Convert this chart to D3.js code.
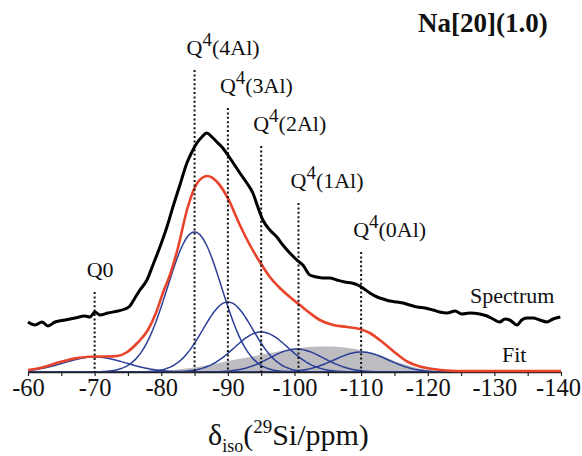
<!DOCTYPE html>
<html>
<head>
<meta charset="utf-8">
<script src="https://cdnjs.cloudflare.com/ajax/libs/d3/7.8.5/d3.min.js"></script>
<style>
  body { margin: 0; background: #fff; }
  svg text { font-family: "Liberation Serif", "Times New Roman", Tinos, Times, serif; fill: #111; }
</style>
</head>
<body>
<div id="chart"></div>
<script>
// chemical shift ticks (ppm)
const tickValues = [-60, -70, -80, -90, -100, -110, -120, -130, -140];

// fitted components: centre (ppm), height, gaussian sigma (ppm)
const peakNames   = ["Q0", "4Al", "3Al", "2Al", "1Al", "0Al"];
const peakCenters = [-70, -85, -90, -95, -100.3, -110];
const peakHeights = [15, 140, 70, 40, 23, 20];
const peakSigmas  = [4.65, 4.05, 3.75, 4.05, 4.05, 4.05];

// dotted markers: position (ppm) and top (intensity)
const markerPos = [-70, -85, -90, -95, -100.6, -110];
const markerTop = [80, 302, 264, 226, 169, 120];

// broad grey contribution
const greyPpm = [-78.3, -81.3, -84.3, -87.3, -90.0, -93.3, -96.3, -99.3, -102.3, -104.6, -106.8, -109.8, -112.8, -115.4, -117.3, -119.9, -121.8];
const greyVal = [0, 1.5, 4, 7, 11, 15, 19, 22.5, 25, 25.5, 25, 22, 17, 10, 6, 2, 0];

// fit (red)
const fitPpm = [-60, -61.8, -64.8, -67.4, -70.1, -71.9, -73.4, -74.9, -76.4, -78.0, -79.2, -80.3, -81.3, -82.5, -83.9, -85.4, -86.9, -88.4, -89.9, -91.8, -93.3, -94.8, -96.3, -97.8, -99.3, -100.8, -102.3, -103.8, -105.8, -107.9, -109.8, -111.3, -112.8, -114.8, -116.9, -118.8, -120.8, -122.9, -125.6, -140];
const fitVal = [2, 4, 10, 14, 15.5, 15.5, 16, 20, 29, 42, 59, 80, 97, 124, 163, 189, 196, 190, 175, 147, 127, 110, 95, 84, 75, 67, 59, 52, 47, 45, 43, 39, 32, 21, 10.5, 5.5, 3, 1.5, 1, 1];

// measured spectrum (black)
const specPpm = [-60.0, -61.05, -62.1, -63.0, -64.05, -65.55, -67.05, -68.55, -69.3, -70.05, -70.8, -72.0, -73.5, -74.55, -75.3, -76.05, -76.8, -77.85, -78.75, -79.8, -80.85, -81.75, -82.8, -83.85, -84.6, -85.35, -86.1, -86.85, -87.6, -88.35, -89.1, -90.0, -90.9, -91.8, -92.85, -93.75, -94.5, -95.25, -96.3, -97.35, -98.25, -99.3, -100.35, -101.25, -102.3, -103.35, -104.25, -105.3, -106.35, -107.55, -108.6, -109.5, -110.25, -111.3, -112.4, -113.3, -114.3, -115.4, -116.3, -117.3, -118.4, -119.6, -120.8, -121.8, -122.9, -124.1, -125.1, -126.3, -127.8, -128.9, -129.8, -130.8, -131.6, -132.3, -133.4, -134.1, -134.9, -135.8, -136.8, -137.9, -138.8, -139.9];
const specVal = [50, 47, 50, 46, 50, 52, 54, 56, 55, 60, 57, 59, 61, 63, 66, 74, 82, 92, 107, 125, 145, 165, 187, 209, 220, 229, 235, 239, 235, 230, 225, 217, 208, 199, 189, 179, 165, 152, 142, 135, 127, 119, 112, 107, 97, 95, 94, 94, 92, 90, 89, 87, 84, 79, 75, 73, 71, 70, 69, 67, 65, 64, 62, 60, 59, 61, 58, 59, 58, 56, 53, 50, 53, 52, 47, 52, 54, 54, 52, 50, 53, 55];

const SERIF = "Liberation Serif, Times New Roman, serif";
const W = 582, H = 456;
const svg = d3.select("#chart").append("svg")
	.attr("width", W)
	.attr("height", H)
	.attr("font-family", SERIF);

const xScale = d3.scaleLinear().domain([-60, -140]).range([28, 561]);
const yScale = d3.scaleLinear().domain([0, 250]).range([372, 122]);

const line = d3.line()
	.x(d => xScale(d[0]))
	.y(d => yScale(d[1]))
	.curve(d3.curveMonotoneX);

// grey area
const greyData = greyPpm.map((p, i) => [p, greyVal[i]]);
svg.append("path")
	.datum(greyData)
	.attr("fill", "#bdbdc1")
	.attr("d", d3.area()
		.x(d => xScale(d[0]))
		.y0(yScale(0))
		.y1(d => yScale(d[1]))
		.curve(d3.curveMonotoneX));

// gaussian components
const grid = d3.range(-60, -140.01, -0.25);
peakNames.forEach((name, i) => {
	const pts = grid.map(p => [p, peakHeights[i] * Math.exp(-((p - peakCenters[i]) ** 2) / (2 * peakSigmas[i] ** 2))]);
	svg.append("path")
		.datum(pts)
		.attr("fill", "none")
		.attr("stroke", "#2c3f98")
		.attr("stroke-width", 1.5)
		.attr("d", line);
});

// axis
const axis = svg.append("g")
	.attr("transform", `translate(0, ${yScale(0)})`)
	.call(d3.axisBottom(xScale)
		.tickValues(d3.range(-60, -141, -5))
		.tickSize(4)
		.tickSizeOuter(0)
		.tickFormat(d => tickValues.includes(d) ? d : ""));
axis.attr("font-family", SERIF);
axis.select(".domain").attr("stroke", "#222").attr("stroke-width", 1.5);
axis.selectAll(".tick line").attr("stroke", "#222").attr("stroke-width", 1.2);
axis.selectAll(".tick text")
	.attr("font-size", 24.5)
	.attr("fill", "#111")
	.attr("y", 7)
	.attr("x", d => d == -140 ? -3 : 0);

// fit
svg.append("path")
	.datum(fitPpm.map((p, i) => [p, fitVal[i]]))
	.attr("fill", "none")
	.attr("stroke", "#e8442b")
	.attr("stroke-width", 2.6)
	.attr("d", line);

// dotted markers
markerPos.forEach((p, i) => {
	svg.append("line")
		.attr("x1", xScale(p)).attr("x2", xScale(p))
		.attr("y1", yScale(markerTop[i])).attr("y2", yScale(0))
		.attr("stroke", "#111")
		.attr("stroke-width", 2)
		.attr("stroke-dasharray", "2,2.4");
});

// spectrum
svg.append("path")
	.datum(specPpm.map((p, i) => [p, specVal[i]]))
	.attr("fill", "none")
	.attr("stroke", "#000")
	.attr("stroke-width", 3)
	.attr("stroke-linejoin", "round")
	.attr("d", line);

// peak labels
markerPos.forEach((p, i) => {
	const t = svg.append("text")
		.attr("x", xScale(p) - 8)
		.attr("y", yScale(markerTop[i]) - 15)
		.attr("font-size", 22);
	if (i == 0) {
		t.text("Q0");
	} else {
		t.append("tspan").text("Q");
		t.append("tspan").attr("dy", -9).attr("font-size", 19).text("4");
		t.append("tspan").attr("dy", 9).text("(" + peakNames[i] + ")");
	}
});

svg.append("text")
	.attr("x", 418).attr("y", 32)
	.attr("font-size", 27)
	.attr("font-weight", "bold")
	.text("Na[20](1.0)");

svg.append("text")
	.attr("x", 470).attr("y", 303)
	.attr("font-size", 22)
	.text("Spectrum");

svg.append("text")
	.attr("x", 502).attr("y", 362)
	.attr("font-size", 22)
	.text("Fit");

// x axis title
const xt = svg.append("text")
	.attr("x", 208).attr("y", 445)
	.attr("font-size", 30);
xt.append("tspan").text("δ");
xt.append("tspan").attr("font-size", 18).attr("dy", 7).text("iso");
xt.append("tspan").attr("dy", -7).text("(");
xt.append("tspan").attr("font-size", 19).attr("dy", -12).text("29");
xt.append("tspan").attr("dy", 12).text("Si/ppm)");
</script>
</body>
</html>
